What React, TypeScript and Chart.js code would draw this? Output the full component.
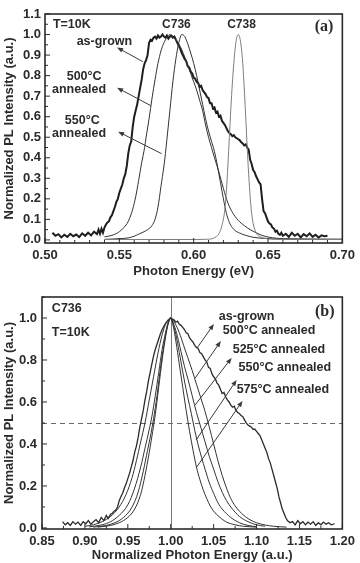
import { useEffect, useRef } from "react";
import { Chart, registerables } from "chart.js";

Chart.register(...registerables);

type Pt = [number, number];

// ---------- Panel (a): normalized PL vs photon energy (eV) ----------
const asGrownA: Pt[] = [
  [0.505, 0.035], [0.507, 0.02], [0.509, 0.028], [0.511, 0.012], [0.513, 0.025], [0.515, 0.015],
  [0.517, 0.03], [0.519, 0.018], [0.521, 0.026], [0.523, 0.014], [0.525, 0.032], [0.527, 0.02],
  [0.529, 0.035], [0.531, 0.022], [0.533, 0.04], [0.535, 0.028], [0.536, 0.05], [0.537, 0.03],
  [0.538, 0.055], [0.539, 0.035], [0.54, 0.06], [0.541, 0.075], [0.542, 0.085], [0.543, 0.09],
  [0.544, 0.11], [0.545, 0.12], [0.546, 0.14], [0.547, 0.16], [0.548, 0.185], [0.549, 0.2],
  [0.55, 0.23], [0.551, 0.25], [0.552, 0.27], [0.553, 0.3], [0.554, 0.32], [0.555, 0.36],
  [0.556, 0.42], [0.557, 0.46], [0.558, 0.48], [0.559, 0.55], [0.56, 0.6], [0.561, 0.63],
  [0.562, 0.66], [0.563, 0.7], [0.564, 0.74], [0.565, 0.78], [0.566, 0.83], [0.567, 0.86],
  [0.568, 0.875], [0.569, 0.9], [0.57, 0.96], [0.571, 0.975], [0.572, 0.97], [0.573, 0.985],
  [0.574, 0.99], [0.575, 0.98], [0.576, 0.995], [0.577, 0.985], [0.578, 0.99], [0.579, 1.0],
  [0.58, 0.99], [0.581, 0.985], [0.582, 0.995], [0.583, 0.98], [0.584, 0.99], [0.585, 0.995],
  [0.586, 0.985], [0.587, 0.99], [0.588, 0.975], [0.589, 0.96], [0.59, 0.945], [0.591, 0.93],
  [0.592, 0.91], [0.593, 0.895], [0.594, 0.88], [0.595, 0.87], [0.596, 0.845], [0.597, 0.84],
  [0.598, 0.82], [0.599, 0.81], [0.6, 0.79], [0.601, 0.785], [0.602, 0.77], [0.603, 0.765],
  [0.604, 0.745], [0.605, 0.75], [0.606, 0.73], [0.607, 0.72], [0.608, 0.71], [0.609, 0.695],
  [0.61, 0.69], [0.611, 0.665], [0.612, 0.665], [0.613, 0.64], [0.614, 0.645], [0.615, 0.62],
  [0.616, 0.625], [0.617, 0.6], [0.618, 0.605], [0.619, 0.58], [0.62, 0.57], [0.621, 0.56],
  [0.622, 0.545], [0.623, 0.53], [0.624, 0.52], [0.625, 0.515], [0.626, 0.505], [0.627, 0.51],
  [0.628, 0.5], [0.629, 0.495], [0.63, 0.49], [0.631, 0.485], [0.632, 0.475], [0.633, 0.47],
  [0.634, 0.46], [0.635, 0.465], [0.636, 0.45], [0.637, 0.44], [0.638, 0.39], [0.639, 0.37],
  [0.64, 0.34], [0.641, 0.33], [0.642, 0.31], [0.643, 0.295], [0.644, 0.28], [0.645, 0.27],
  [0.646, 0.2], [0.647, 0.14], [0.648, 0.13], [0.649, 0.11], [0.65, 0.09], [0.651, 0.08],
  [0.652, 0.075], [0.653, 0.06], [0.654, 0.055], [0.655, 0.04], [0.656, 0.045], [0.657, 0.03],
  [0.658, 0.025], [0.659, 0.035], [0.66, 0.02], [0.662, 0.03], [0.664, 0.015], [0.666, 0.035],
  [0.668, 0.02], [0.67, 0.03], [0.672, 0.012], [0.674, 0.028], [0.676, 0.018], [0.678, 0.032],
  [0.68, 0.015], [0.682, 0.025], [0.684, 0.012], [0.686, 0.022], [0.688, 0.018], [0.69, 0.02],
];

const anneal500A: Pt[] = [
  [0.54, 0.015], [0.545, 0.022], [0.55, 0.04], [0.553, 0.06], [0.556, 0.09], [0.559, 0.15],
  [0.561, 0.21], [0.563, 0.29], [0.565, 0.375], [0.567, 0.45], [0.568, 0.5], [0.57, 0.59],
  [0.572, 0.69], [0.574, 0.78], [0.576, 0.86], [0.578, 0.92], [0.58, 0.96], [0.582, 0.985],
  [0.584, 1.0], [0.586, 0.99], [0.588, 0.975], [0.59, 0.955], [0.592, 0.925], [0.594, 0.89],
  [0.596, 0.85], [0.598, 0.81], [0.6, 0.77], [0.602, 0.73], [0.604, 0.68], [0.606, 0.63],
  [0.608, 0.56], [0.61, 0.5], [0.612, 0.45], [0.614, 0.4], [0.617, 0.33], [0.62, 0.25],
  [0.623, 0.18], [0.626, 0.135], [0.63, 0.095], [0.634, 0.07], [0.638, 0.05], [0.642, 0.035],
  [0.646, 0.022], [0.65, 0.014], [0.656, 0.008], [0.665, 0.005], [0.7, 0.003],
];

const anneal550A: Pt[] = [
  [0.54, 0.003], [0.55, 0.006], [0.556, 0.01], [0.56, 0.018], [0.563, 0.028], [0.566, 0.038],
  [0.569, 0.05], [0.572, 0.07], [0.574, 0.1], [0.576, 0.16], [0.578, 0.26], [0.58, 0.36],
  [0.581, 0.42], [0.582, 0.49], [0.584, 0.63], [0.586, 0.77], [0.588, 0.88], [0.59, 0.96],
  [0.592, 1.0], [0.594, 0.99], [0.596, 0.955], [0.598, 0.91], [0.6, 0.86], [0.602, 0.8],
  [0.604, 0.73], [0.606, 0.66], [0.608, 0.59], [0.61, 0.53], [0.612, 0.48], [0.614, 0.43],
  [0.616, 0.36], [0.618, 0.28], [0.62, 0.2], [0.622, 0.13], [0.624, 0.085], [0.626, 0.06],
  [0.628, 0.045], [0.632, 0.03], [0.636, 0.02], [0.64, 0.013], [0.648, 0.007], [0.66, 0.004],
  [0.7, 0.003],
];

const c738A: Pt[] = [
  [0.54, 0.002], [0.6, 0.002], [0.608, 0.003], [0.612, 0.005], [0.615, 0.015], [0.617, 0.03],
  [0.619, 0.07], [0.621, 0.15], [0.622, 0.24], [0.623, 0.36], [0.624, 0.5], [0.625, 0.64],
  [0.626, 0.76], [0.627, 0.86], [0.628, 0.94], [0.629, 0.985], [0.63, 1.0], [0.631, 0.985],
  [0.632, 0.94], [0.633, 0.86], [0.634, 0.74], [0.635, 0.6], [0.636, 0.45], [0.637, 0.32],
  [0.638, 0.21], [0.639, 0.13], [0.64, 0.08], [0.642, 0.035], [0.645, 0.015], [0.65, 0.006],
  [0.66, 0.003], [0.7, 0.002],
];

const xTicksA = [0.5, 0.55, 0.6, 0.65, 0.7];
const yTicksA = [0, 0.1, 0.2, 0.3, 0.4, 0.5, 0.6, 0.7, 0.8, 0.9, 1.0, 1.1];

// ---------- Panel (b): normalized PL vs normalized photon energy ----------
const asGrownB: Pt[] = [
  [0.874, 0.03], [0.877, 0.015], [0.88, 0.025], [0.883, 0.012], [0.886, 0.03], [0.889, 0.018],
  [0.892, 0.028], [0.895, 0.012], [0.898, 0.03], [0.901, 0.02], [0.904, 0.035], [0.907, 0.018],
  [0.91, 0.03], [0.913, 0.04], [0.916, 0.025], [0.919, 0.05], [0.922, 0.035], [0.925, 0.06],
  [0.927, 0.045], [0.93, 0.065], [0.932, 0.07], [0.934, 0.08], [0.936, 0.085], [0.938, 0.1],
  [0.94, 0.13], [0.942, 0.15], [0.944, 0.165], [0.946, 0.19], [0.948, 0.21], [0.95, 0.235],
  [0.952, 0.26], [0.954, 0.29], [0.956, 0.32], [0.958, 0.36], [0.96, 0.39], [0.962, 0.43],
  [0.964, 0.48], [0.966, 0.52], [0.968, 0.56], [0.97, 0.61], [0.972, 0.65], [0.974, 0.7],
  [0.976, 0.74], [0.978, 0.78], [0.98, 0.82], [0.982, 0.85], [0.984, 0.875], [0.986, 0.9],
  [0.988, 0.925], [0.99, 0.945], [0.992, 0.96], [0.994, 0.975], [0.996, 0.985], [0.998, 0.99],
  [1.0, 1.0], [1.002, 0.995], [1.004, 0.99], [1.006, 0.98], [1.008, 0.985], [1.01, 0.97],
  [1.012, 0.965], [1.014, 0.955], [1.016, 0.945], [1.018, 0.93], [1.02, 0.925], [1.022, 0.905],
  [1.024, 0.895], [1.026, 0.885], [1.028, 0.87], [1.03, 0.86], [1.032, 0.855], [1.034, 0.835],
  [1.036, 0.83], [1.038, 0.815], [1.04, 0.8], [1.042, 0.79], [1.044, 0.765], [1.046, 0.76],
  [1.048, 0.735], [1.05, 0.72], [1.052, 0.71], [1.054, 0.69], [1.056, 0.68], [1.058, 0.66],
  [1.06, 0.64], [1.062, 0.645], [1.064, 0.625], [1.066, 0.61], [1.068, 0.6], [1.07, 0.585],
  [1.072, 0.575], [1.074, 0.58], [1.076, 0.56], [1.078, 0.55], [1.08, 0.545], [1.082, 0.535],
  [1.084, 0.53], [1.086, 0.515], [1.088, 0.5], [1.09, 0.49], [1.092, 0.485], [1.094, 0.48],
  [1.096, 0.47], [1.098, 0.47], [1.1, 0.46], [1.102, 0.45], [1.104, 0.44], [1.106, 0.42],
  [1.108, 0.4], [1.11, 0.38], [1.112, 0.36], [1.114, 0.33], [1.116, 0.31], [1.118, 0.28],
  [1.12, 0.25], [1.122, 0.22], [1.124, 0.19], [1.126, 0.15], [1.128, 0.12], [1.13, 0.09],
  [1.132, 0.07], [1.134, 0.05], [1.136, 0.035], [1.139, 0.025], [1.142, 0.03], [1.145, 0.015],
  [1.148, 0.035], [1.151, 0.02], [1.154, 0.03], [1.157, 0.015], [1.16, 0.028], [1.163, 0.018],
  [1.166, 0.03], [1.169, 0.012], [1.172, 0.025], [1.175, 0.015], [1.178, 0.028], [1.181, 0.018],
  [1.184, 0.025], [1.187, 0.015], [1.191, 0.02],
];

const anneal500B: Pt[] = [
  [0.9, 0.008], [0.91, 0.015], [0.92, 0.03], [0.93, 0.055], [0.94, 0.1], [0.948, 0.16],
  [0.955, 0.24], [0.96, 0.32], [0.965, 0.41], [0.97, 0.5], [0.975, 0.61], [0.98, 0.72],
  [0.985, 0.83], [0.99, 0.92], [0.995, 0.98], [1.0, 1.0], [1.005, 0.975], [1.01, 0.93],
  [1.015, 0.87], [1.02, 0.81], [1.025, 0.75], [1.03, 0.685], [1.035, 0.62], [1.04, 0.555],
  [1.045, 0.48], [1.05, 0.4], [1.055, 0.32], [1.06, 0.25], [1.065, 0.19], [1.07, 0.14],
  [1.075, 0.105], [1.08, 0.08], [1.09, 0.045], [1.1, 0.025], [1.11, 0.014], [1.12, 0.008],
  [1.135, 0.004],
];

const anneal525B: Pt[] = [
  [0.905, 0.005], [0.92, 0.015], [0.93, 0.03], [0.94, 0.06], [0.95, 0.11], [0.958, 0.19],
  [0.965, 0.29], [0.97, 0.38], [0.975, 0.47], [0.978, 0.53], [0.982, 0.63], [0.986, 0.74],
  [0.99, 0.85], [0.994, 0.93], [0.997, 0.98], [1.0, 1.0], [1.004, 0.965], [1.008, 0.91],
  [1.012, 0.84], [1.016, 0.77], [1.02, 0.71], [1.025, 0.63], [1.03, 0.55], [1.035, 0.48],
  [1.04, 0.41], [1.045, 0.34], [1.05, 0.28], [1.055, 0.22], [1.06, 0.17], [1.065, 0.13],
  [1.07, 0.1], [1.08, 0.055], [1.09, 0.03], [1.1, 0.015], [1.11, 0.008],
];

const anneal550B: Pt[] = [
  [0.91, 0.004], [0.925, 0.012], [0.935, 0.025], [0.945, 0.05], [0.955, 0.1], [0.962, 0.17],
  [0.968, 0.27], [0.973, 0.37], [0.977, 0.45], [0.98, 0.52], [0.984, 0.63], [0.988, 0.76],
  [0.992, 0.87], [0.996, 0.96], [1.0, 1.0], [1.004, 0.955], [1.008, 0.88], [1.012, 0.79],
  [1.016, 0.7], [1.02, 0.62], [1.024, 0.545], [1.028, 0.465], [1.032, 0.395], [1.036, 0.335],
  [1.04, 0.28], [1.045, 0.215], [1.05, 0.165], [1.055, 0.12], [1.06, 0.09], [1.07, 0.05],
  [1.08, 0.025], [1.09, 0.012], [1.1, 0.006],
];

const anneal575B: Pt[] = [
  [0.915, 0.004], [0.93, 0.012], [0.94, 0.025], [0.95, 0.05], [0.958, 0.09], [0.965, 0.16],
  [0.97, 0.25], [0.975, 0.36], [0.979, 0.46], [0.982, 0.54], [0.986, 0.67], [0.99, 0.8],
  [0.994, 0.91], [0.997, 0.97], [1.0, 1.0], [1.003, 0.96], [1.006, 0.89], [1.01, 0.78],
  [1.014, 0.67], [1.018, 0.56], [1.022, 0.46], [1.026, 0.37], [1.03, 0.29], [1.034, 0.23],
  [1.038, 0.18], [1.042, 0.14], [1.046, 0.105], [1.05, 0.08], [1.056, 0.055], [1.064, 0.03],
  [1.075, 0.015], [1.085, 0.008], [1.1, 0.004],
];

const xTicksB = [0.85, 0.9, 0.95, 1.0, 1.05, 1.1, 1.15, 1.2];
const yTicksB = [0, 0.2, 0.4, 0.6, 0.8, 1.0];

// ---------- shared styling ----------
const SANS = "'Liberation Sans', Arial, Helvetica, sans-serif";
const SERIF = "'Liberation Serif', 'Times New Roman', serif";
const INK = "#2b2b2b";
const CURVE = "#333333";

type TextNote = { text: string; x: number; y: number; align?: CanvasTextAlign; font?: string };
type ArrowNote = { from: Pt; to: Pt };

interface Decor {
  xMinor: number;
  yMinor: number;
  notes: TextNote[];
  arrows: ArrowNote[];
  vLines?: number[];
  hDashed?: number[];
}

const NOTE_FONT = `bold 12.5px ${SANS}`;
const TAG_FONT = `bold 16px ${SERIF}`;

const notesA: TextNote[] = [
  { text: "T=10K", x: 0.5053, y: 1.049 },
  { text: "C736", x: 0.5884, y: 1.049, align: "center", font: `bold 12px ${SANS}` },
  { text: "C738", x: 0.6322, y: 1.049, align: "center", font: `bold 12px ${SANS}` },
  { text: "as-grown", x: 0.5213, y: 0.966 },
  { text: "500°C", x: 0.5146, y: 0.795 },
  { text: "annealed", x: 0.5047, y: 0.732 },
  { text: "550°C", x: 0.5133, y: 0.58 },
  { text: "annealed", x: 0.5047, y: 0.517 },
  { text: "(a)", x: 0.694, y: 1.039, align: "right", font: TAG_FONT },
];

const arrowsA: ArrowNote[] = [
  { from: [0.5658, 0.868], to: [0.5485, 0.937] },
  { from: [0.5711, 0.654], to: [0.5485, 0.741] },
  { from: [0.5784, 0.42], to: [0.5492, 0.527] },
];

const notesB: TextNote[] = [
  { text: "C736", x: 0.8615, y: 1.043 },
  { text: "T=10K", x: 0.8615, y: 0.933 },
  { text: "as-grown", x: 1.0561, y: 1.005 },
  { text: "500°C annealed", x: 1.0607, y: 0.938 },
  { text: "525°C annealed", x: 1.0722, y: 0.852 },
  { text: "550°C annealed", x: 1.0791, y: 0.762 },
  { text: "575°C annealed", x: 1.0768, y: 0.657 },
  { text: "(b)", x: 1.1908, y: 1.029, align: "right", font: TAG_FONT },
];

const arrowsB: ArrowNote[] = [
  { from: [1.0307, 0.857], to: [1.0503, 0.971] },
  { from: [1.0285, 0.714], to: [1.0584, 0.89] },
  { from: [1.0285, 0.586], to: [1.071, 0.81] },
  { from: [1.0296, 0.419], to: [1.0768, 0.705] },
  { from: [1.0296, 0.286], to: [1.0837, 0.605] },
];

function decorPlugin(d: Decor) {
  return {
    id: "panelDecor",
    beforeDatasetsDraw(chart: Chart) {
      const { ctx, chartArea } = chart;
      const xs = chart.scales.x;
      const ys = chart.scales.y;
      ctx.save();
      ctx.lineWidth = 1;
      ctx.strokeStyle = "#7a7a7a";
      for (const v of d.vLines ?? []) {
        const px = Math.round(xs.getPixelForValue(v)) + 0.5;
        ctx.beginPath();
        ctx.moveTo(px, chartArea.top);
        ctx.lineTo(px, chartArea.bottom);
        ctx.stroke();
      }
      ctx.setLineDash([5, 4]);
      ctx.strokeStyle = "#6a6a6a";
      for (const v of d.hDashed ?? []) {
        const py = Math.round(ys.getPixelForValue(v)) + 0.5;
        ctx.beginPath();
        ctx.moveTo(chartArea.left, py);
        ctx.lineTo(chartArea.right, py);
        ctx.stroke();
      }
      ctx.restore();
    },
    afterDraw(chart: Chart) {
      const { ctx, chartArea } = chart;
      const { left, right, top, bottom } = chartArea;
      const xs = chart.scales.x;
      const ys = chart.scales.y;
      ctx.save();

      // inward tick marks
      ctx.strokeStyle = INK;
      ctx.lineWidth = 1;
      ctx.beginPath();
      const xMin = xs.min, xMax = xs.max;
      const nx = Math.round((xMax - xMin) / d.xMinor);
      const xMajor = (xs.ticks as { value: number }[]).map((t) => t.value);
      for (let i = 0; i <= nx; i++) {
        const v = xMin + i * d.xMinor;
        const isMajor = xMajor.some((m) => Math.abs(m - v) < d.xMinor / 10);
        const px = xs.getPixelForValue(v);
        ctx.moveTo(px, bottom);
        ctx.lineTo(px, bottom - (isMajor ? 5 : 3));
      }
      const yMajor = (ys.ticks as { value: number }[]).map((t) => t.value);
      const ny = Math.floor(ys.max / d.yMinor + 1e-6);
      for (let i = 0; i <= ny; i++) {
        const v = i * d.yMinor;
        const isMajor = yMajor.some((m) => Math.abs(m - v) < d.yMinor / 10);
        const py = ys.getPixelForValue(v);
        ctx.moveTo(left, py);
        ctx.lineTo(left + (isMajor ? 5 : 3), py);
      }
      ctx.stroke();

      // frame
      ctx.lineWidth = 1.6;
      ctx.strokeRect(left, top, right - left, bottom - top);

      // arrows
      ctx.strokeStyle = "#3a3a3a";
      ctx.fillStyle = "#3a3a3a";
      ctx.lineWidth = 1;
      for (const a of d.arrows) {
        const x0 = xs.getPixelForValue(a.from[0]);
        const y0 = ys.getPixelForValue(a.from[1]);
        const x1 = xs.getPixelForValue(a.to[0]);
        const y1 = ys.getPixelForValue(a.to[1]);
        const ang = Math.atan2(y1 - y0, x1 - x0);
        const hl = 6, hw = 2.4;
        ctx.beginPath();
        ctx.moveTo(x0, y0);
        ctx.lineTo(x1 - Math.cos(ang) * hl * 0.8, y1 - Math.sin(ang) * hl * 0.8);
        ctx.stroke();
        ctx.beginPath();
        ctx.moveTo(x1, y1);
        ctx.lineTo(x1 - hl * Math.cos(ang) + hw * Math.sin(ang), y1 - hl * Math.sin(ang) - hw * Math.cos(ang));
        ctx.lineTo(x1 - hl * Math.cos(ang) - hw * Math.sin(ang), y1 - hl * Math.sin(ang) + hw * Math.cos(ang));
        ctx.closePath();
        ctx.fill();
      }

      // text notes
      ctx.fillStyle = INK;
      ctx.textBaseline = "middle";
      for (const n of d.notes) {
        ctx.font = n.font ?? NOTE_FONT;
        ctx.textAlign = n.align ?? "left";
        ctx.fillText(n.text, xs.getPixelForValue(n.x), ys.getPixelForValue(n.y));
      }
      ctx.restore();
    },
  };
}

interface SeriesSpec {
  pts: Pt[];
  color: string;
  width: number;
  smooth: boolean;
}

interface PanelSpec {
  height: number;
  series: SeriesSpec[];
  xMin: number;
  xMax: number;
  yMin: number;
  yMax: number;
  xTicks: number[];
  yTicks: number[];
  xDigits: number;
  yDigits: number;
  xTitle: string;
  yTitle: string;
  yAxisWidth: number;
  xAxisHeight: number;
  xTitlePad: number;
  yLabelPad: number;
  decor: Decor;
}

const TICK_FONT = { family: SANS, size: 13, weight: "bold" as const };

function buildConfig(p: PanelSpec) {
  return {
    type: "line" as const,
    data: {
      datasets: p.series.map((s) => ({
        data: s.pts.map(([x, y]) => ({ x, y })),
        borderColor: s.color,
        borderWidth: s.width,
        pointRadius: 0,
        fill: false,
        tension: s.smooth ? 0.4 : 0,
        cubicInterpolationMode: s.smooth ? ("monotone" as const) : ("default" as const),
      })),
    },
    options: {
      animation: false as const,
      responsive: false,
      maintainAspectRatio: false,
      devicePixelRatio: 1,
      layout: { padding: { left: 0, right: 14, top: 14, bottom: 0 } },
      plugins: { legend: { display: false }, tooltip: { enabled: false } },
      scales: {
        x: {
          type: "linear" as const,
          min: p.xMin,
          max: p.xMax,
          grid: { display: false, drawTicks: false },
          border: { display: false },
          afterBuildTicks: (s: any) => {
            s.ticks = p.xTicks.map((value) => ({ value }));
          },
          afterFit: (s: any) => {
            s.height = p.xAxisHeight;
          },
          ticks: {
            font: TICK_FONT,
            color: INK,
            padding: 5,
            maxRotation: 0,
            autoSkip: false,
            callback: (v: number | string) => Number(v).toFixed(p.xDigits),
          },
          title: {
            display: true,
            text: p.xTitle,
            color: INK,
            font: { family: SANS, size: 13, weight: "bold" as const },
            padding: { top: 0, bottom: p.xTitlePad },
          },
        },
        y: {
          type: "linear" as const,
          min: p.yMin,
          max: p.yMax,
          grid: { display: false, drawTicks: false },
          border: { display: false },
          afterBuildTicks: (s: any) => {
            s.ticks = p.yTicks.map((value) => ({ value }));
          },
          afterFit: (s: any) => {
            s.width = p.yAxisWidth;
          },
          ticks: {
            font: TICK_FONT,
            color: INK,
            padding: p.yLabelPad,
            autoSkip: false,
            callback: (v: number | string) => Number(v).toFixed(p.yDigits),
          },
          title: {
            display: true,
            text: "Normalized PL Intensity (a.u.)",
            color: INK,
            font: { family: SANS, size: 13, weight: "bold" as const },
            padding: { top: 2, bottom: 0 },
          },
        },
      },
    },
    plugins: [decorPlugin(p.decor)],
  };
}

const panelA: PanelSpec = {
  height: 285,
  series: [
    { pts: c738A, color: "#7d7d7d", width: 1, smooth: true },
    { pts: anneal550A, color: CURVE, width: 1, smooth: true },
    { pts: anneal500A, color: CURVE, width: 1, smooth: true },
    { pts: asGrownA, color: "#1e1e1e", width: 2, smooth: false },
  ],
  xMin: 0.5,
  xMax: 0.7,
  yMin: -0.015,
  yMax: 1.1,
  xTicks: xTicksA,
  yTicks: yTicksA,
  xDigits: 2,
  yDigits: 1,
  xTitle: "Photon Energy (eV)",
  yTitle: "Normalized PL Intensity (a.u.)",
  yAxisWidth: 45,
  xAxisHeight: 42,
  xTitlePad: 6,
  yLabelPad: 4,
  decor: { xMinor: 0.01, yMinor: 0.05, notes: notesA, arrows: arrowsA },
};

const panelB: PanelSpec = {
  height: 280,
  series: [
    { pts: anneal575B, color: CURVE, width: 1, smooth: true },
    { pts: anneal550B, color: CURVE, width: 1, smooth: true },
    { pts: anneal525B, color: CURVE, width: 1, smooth: true },
    { pts: anneal500B, color: CURVE, width: 1, smooth: true },
    { pts: asGrownB, color: "#2a2a2a", width: 1.3, smooth: false },
  ],
  xMin: 0.85,
  xMax: 1.2,
  yMin: -0.005,
  yMax: 1.1,
  xTicks: xTicksB,
  yTicks: yTicksB,
  xDigits: 2,
  yDigits: 1,
  xTitle: "Normalized Photon Energy (a.u.)",
  yTitle: "Normalized PL Intensity (a.u.)",
  yAxisWidth: 42,
  xAxisHeight: 34,
  xTitlePad: 0,
  yLabelPad: 5,
  decor: { xMinor: 0.025, yMinor: 0.1, notes: notesB, arrows: arrowsB, vLines: [1.0], hDashed: [0.5] },
};

function Panel({ spec, top }: { spec: PanelSpec; top: number }) {
  const ref = useRef<HTMLCanvasElement>(null);
  useEffect(() => {
    if (!ref.current) return;
    const chart = new Chart(ref.current, buildConfig(spec) as any);
    return () => chart.destroy();
  }, [spec]);
  return (
    <canvas
      ref={ref}
      width={360}
      height={spec.height}
      style={{ position: "absolute", left: 0, top, width: 360, height: spec.height }}
    />
  );
}

export default function App() {
  return (
    <div style={{ position: "absolute", left: 0, top: 0, width: 360, height: 563, background: "#fff", overflow: "hidden" }}>
      <Panel spec={panelA} top={0} />
      <Panel spec={panelB} top={283} />
    </div>
  );
}
